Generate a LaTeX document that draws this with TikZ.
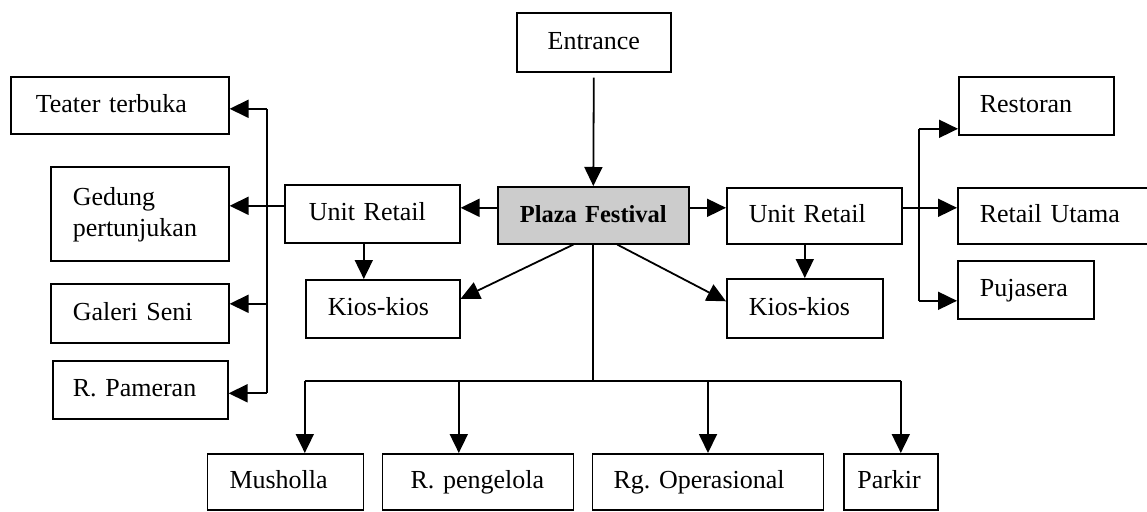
\documentclass[tikz,border=0pt]{standalone}
\usepackage{fontspec}
\setmainfont{Liberation Serif}
\usetikzlibrary{arrows.meta,calc}
\begin{document}
\begin{tikzpicture}[x=1pt,y=-1pt,
  box/.style={draw, line width=1.6pt, anchor=north west, align=left, inner ysep=0pt,
    font=\fontsize{26}{31.5}\selectfont, text height=19pt, text depth=5pt},
  cbox/.style={box, align=center},
  arr/.style={line width=1.8pt, -{Triangle[length=19pt,width=18pt]}},
  link/.style={line width=1.8pt},
]
\useasboundingbox (0,0) rectangle (1147,511);
\clip (0,0) rectangle (1147,511);

% centre column
\node[cbox, text width=134pt, inner xsep=10pt, minimum height=59pt] (ent) at (516,12) {Entrance};
\node[cbox, fill=black!20, text width=171pt, inner xsep=10pt, minimum height=57pt,
  font=\fontsize{24.5}{28}\selectfont\bfseries] (plaza) at (497,186) {Plaza Festival};

% retail units and kiosks
\node[box, text width=127pt, inner xsep=24pt, minimum height=58pt] (urL) at (284,184) {Unit Retail};
\node[box, text width=110pt, inner xsep=22pt, minimum height=58pt] (kL) at (305,279) {Kios-kios};
\node[box, text width=131pt, inner xsep=22pt, minimum height=56pt] (urR) at (726,187) {Unit Retail};
\node[box, text width=112pt, inner xsep=22pt, minimum height=59pt] (kR) at (726,278) {Kios-kios};

% right column
\node[box, text width=113pt, inner xsep=21pt, minimum height=58pt] (rest) at (958,76) {Restoran};
\node[box, text width=169pt, inner xsep=22pt, minimum height=56pt] (utama) at (957,187) {Retail Utama};
\node[box, text width=92pt, inner xsep=22pt, minimum height=58pt] (puja) at (957,260) {Pujasera};

% left column
\node[box, text width=168pt, inner xsep=25pt, minimum height=57pt] (teater) at (10,76) {Teater terbuka};
\node[box, text width=134pt, inner xsep=22pt, minimum height=94pt, text depth=36.5pt] (gedung) at (50,166) {Gedung\\pertunjukan};
\node[box, text width=134pt, inner xsep=22pt, minimum height=59pt] (galeri) at (50,283) {Galeri Seni};
\node[box, text width=135pt, inner xsep=20pt, minimum height=58pt] (pameran) at (52,360) {R.\ Pameran};

% bottom row
\node[box, text width=112pt, inner xsep=22pt, minimum height=56pt] (mus) at (206.7,453) {Musholla};
\node[box, text width=135pt, inner xsep=28pt, minimum height=56pt] (peng) at (381.7,453) {R.\ pengelola};
\node[box, text width=189pt, inner xsep=21pt, minimum height=56pt] (rgop) at (591.7,453) {Rg.\ Operasional};
\node[box, text width=67pt, inner xsep=13.5pt, minimum height=56pt] (park) at (843,453) {Parkir};

% entrance and retail links
\draw[arr] ([yshift=-5pt]ent.south) -- (plaza.north);
\draw[arr] ([yshift=7.5pt]plaza.west) -- ([yshift=7.5pt]plaza.west -| urL.east);
\draw[arr] ([yshift=7.5pt]plaza.east) -- ([yshift=7.5pt]plaza.east -| urR.west);
\draw[arr] ([xshift=-8.5pt]urL.south) -- ([xshift=-8.5pt]urL.south |- kL.north);
\draw[arr] ([xshift=-9.5pt]urR.south) -- ([xshift=-9.5pt]urR.south |- kR.north);
\draw[arr] ([xshift=-20pt]plaza.south) -- ([yshift=10pt]kL.east);
\draw[arr] ([xshift=24pt]plaza.south) -- ([yshift=7pt]kR.west);

% service bus below the plaza
\coordinate (bus) at ($(plaza.south)+(0,136)$);
\draw[link] (plaza.south) -- (bus);
\draw[link] ([xshift=19.3pt]mus.north |- bus) -- ([xshift=10pt]park.north |- bus);
\draw[arr] ([xshift=19.3pt]mus.north |- bus) -- ([xshift=19.3pt]mus.north);
\draw[arr] ([xshift=-19.2pt]peng.north |- bus) -- ([xshift=-19.2pt]peng.north);
\draw[arr] (rgop.north |- bus) -- (rgop.north);
\draw[arr] ([xshift=10pt]park.north |- bus) -- ([xshift=10pt]park.north);

% left distribution bus
\coordinate (lb) at (266.7,0);
\draw[arr] ([yshift=8pt]urL.west) -- ([yshift=8pt]urL.west -| gedung.east);
\draw[link] ([yshift=-3.5pt]teater.east -| lb) -- ([yshift=-3.5pt]pameran.east -| lb);
\draw[arr] ([yshift=-3.5pt]teater.east -| lb) -- ([yshift=-3.5pt]teater.east);
\draw[arr] ([yshift=9.5pt]galeri.east -| lb) -- ([yshift=9.5pt]galeri.east);
\draw[arr] ([yshift=-3.5pt]pameran.east -| lb) -- ([yshift=-3.5pt]pameran.east);

% right distribution bus
\coordinate (rb) at (919.3,0);
\draw[arr] ([yshift=8pt]urR.east) -- ([yshift=8pt]urR.east -| utama.west);
\draw[link] ([yshift=-23pt]rest.west -| rb) -- ([yshift=-11pt]puja.west -| rb);
\draw[arr] ([yshift=-23pt]rest.west -| rb) -- ([yshift=-23pt]rest.west);
\draw[arr] ([yshift=-11pt]puja.west -| rb) -- ([yshift=-11pt]puja.west);
\end{tikzpicture}
\end{document}
